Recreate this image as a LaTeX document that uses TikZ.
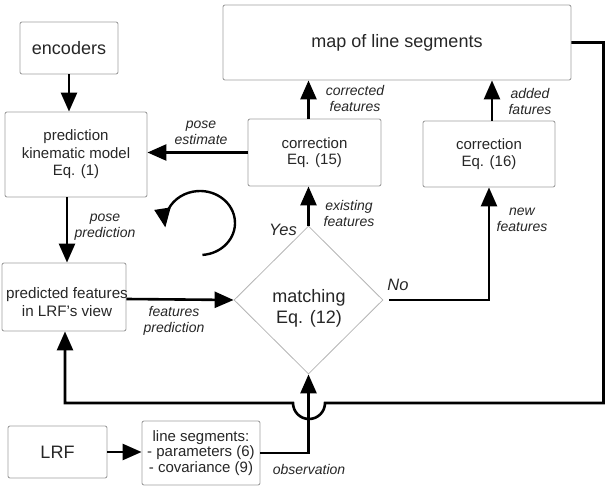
\documentclass[tikz,border=0pt]{standalone}
\usepackage{fontspec}
\setmainfont{Liberation Sans}
\usetikzlibrary{arrows.meta,shapes.geometric,calc}
\definecolor{boxgray}{HTML}{A0A0A0}
\definecolor{diagray}{HTML}{B5B5B5}
\definecolor{txt}{HTML}{262626}
\begin{document}
\begin{tikzpicture}[x=1pt,y=-1pt,
  box/.style={draw=boxgray,line width=0.9pt,rounded corners=2pt,inner sep=0pt,align=center,text=txt},
  bigtxt/.style={font=\fontsize{18}{21}\selectfont},
  midtxt/.style={font=\fontsize{15}{17.5}\selectfont},
  smalltxt/.style={font=\fontsize{15}{15.8}\selectfont},
  lab/.style={font=\fontsize{14}{16}\selectfont\itshape,align=center,text=txt,inner sep=0pt},
  yn/.style={font=\fontsize{16.5}{18}\selectfont\itshape,text=txt,inner sep=0pt},
  arr/.style={line width=2.6pt,-{Triangle[length=19pt,width=16pt]}},
  plain/.style={line width=2.6pt}]
\useasboundingbox (0,0) rectangle (605,486);
% boxes
\node[box,bigtxt,minimum width=98pt,minimum height=52pt] (enc) at (69,48) {encoders};
\node[box,midtxt,minimum width=142pt,minimum height=85pt] (pred) at (76,154.5) {prediction\\kinematic model\\Eq. (1)};
\node[box,bigtxt,minimum width=348pt,minimum height=75pt] (map) at (397,42.5) {map of line segments};
\node[box,minimum width=133pt,minimum height=67pt,font=\fontsize{15}{16.7}\selectfont] (corrA) at (314.5,152.5) {correction\\Eq. (15)};
\node[box,minimum width=132pt,minimum height=66pt,font=\fontsize{15}{16.7}\selectfont] (corrB) at (489,154) {correction\\Eq. (16)};
\node[box,minimum width=124pt,minimum height=68pt] (predfeat) at (64,297) {};
\node[text=txt,align=center,inner sep=0pt,font=\fontsize{15.2}{18}\selectfont] (predfeattxt) at (67,302) {predicted features\\in LRF's view};
\node[diamond,draw=diagray,line width=0.8pt,aspect=1,minimum width=149pt,minimum height=148pt,inner sep=0pt] (match) at (308.5,300) {};
\node[text=txt,align=center,inner sep=0pt,font=\fontsize{18}{21}\selectfont] (matchtxt) at (309,308) {matching\\Eq. (12)};
\node[box,bigtxt,minimum width=99pt,minimum height=52pt] (lrf) at (57.5,452) {LRF};
\node[box,smalltxt,minimum width=118pt,minimum height=64pt] (seg) at (201,453) {line segments:\\- parameters (6)\\- covariance (9)};
% helper coordinates
\coordinate (rc) at (603.5,42.5);
\coordinate (hop) at (603.5,403);
\coordinate (hopR) at (325,403);
\coordinate (loopc) at (200,223);
% connectors
\draw[arr] (enc.south) -- (enc.south |- pred.north);
\draw[arr] (corrA.west) -- (corrA.west -| pred.east);
\draw[arr] ($(pred.south)+(-9,0)$) -- ($(predfeat.north)+(3,0)$);
\draw[arr] (predfeat.east |- 0,299) -- (match.west);
\draw[arr] (match.north) -- (match.north |- corrA.south);
\draw[arr] (match.north |- corrA.north) -- (match.north |- map.south);
\draw[arr,shorten <=6pt] (match.east) -- (corrB.south |- match.east) -- (corrB.south);
\draw[arr] ($(corrB.north)+(3,0)$) -- ($(corrB.north |- map.south)+(3,0)$);
\draw[arr] (lrf.east) -- (lrf.east -| seg.west);
\draw[arr] (seg.east) -- (seg.east -| match.south) -- (match.south);
\draw[arr] (map.east) -- (rc) -- (hop) -- (hopR)
  arc[start angle=0,end angle=180,radius=16] -- ($(predfeat.south |- hop)+(1,0)$) -- ($(predfeat.south)+(1,0)$);
% loop symbol
\draw[arr,line width=2.4pt] ($(loopc)+(86:35 and 32)$) arc[start angle=86,end angle=-188,x radius=35,y radius=32];
% labels
\node[lab] (l1) at (201,133) {pose\\estimate};
\node[lab] (l2) at (105,227) {pose\\prediction};
\node[lab] (l3) at (174,321) {features\\prediction};
\node[lab] (l4) at (349,213) {existing\\features};
\node[lab] (l5) at (355,98) {corrected\\features};
\node[lab] (l6) at (530,101) {added\\fatures};
\node[lab] (l7) at (522,220) {new\\features};
\node[lab] (l8) at (309,469) {observation};
\node[yn] (yes) at (283,230) {Yes};
\node[yn] (no) at (398,285) {No};
\end{tikzpicture}
\end{document}
